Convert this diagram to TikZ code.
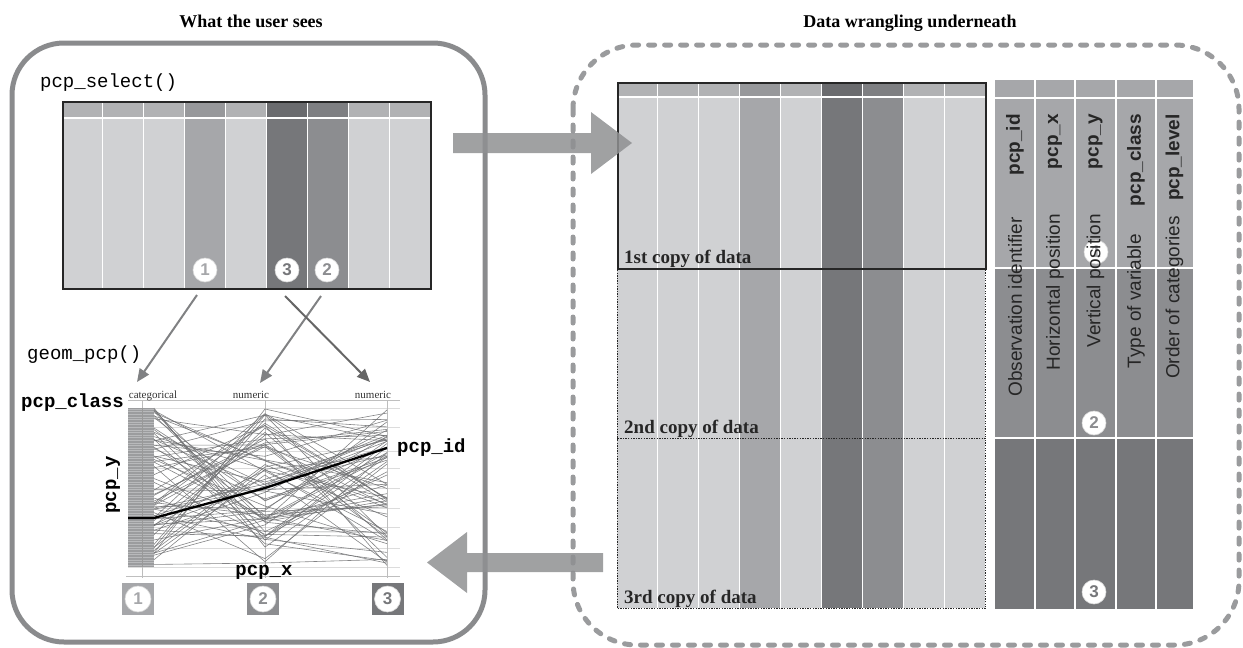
\documentclass[tikz,border=0pt]{standalone}
\usepackage{fontspec}
\setmainfont{Liberation Serif}
\setsansfont{Liberation Sans}
\setmonofont{Liberation Mono}
\usetikzlibrary{arrows.meta}
\definecolor{cL}{HTML}{D0D1D3}
\definecolor{hL}{HTML}{B1B2B4}
\definecolor{c1}{HTML}{A6A7AA}
\definecolor{h1}{HTML}{97989B}
\definecolor{c2}{HTML}{8C8D90}
\definecolor{h2}{HTML}{7E7F82}
\definecolor{c3}{HTML}{76777A}
\definecolor{h3}{HTML}{6A6B6E}
\definecolor{pnl}{HTML}{8A8B8D}
\definecolor{dsh}{HTML}{9A9B9D}
\definecolor{arr}{HTML}{808183}
\definecolor{big}{HTML}{8F9092}
\definecolor{blk}{HTML}{9B9C9E}
\definecolor{blkln}{HTML}{B8B9BB}
\definecolor{pln}{HTML}{6E6F71}
\definecolor{grd}{HTML}{DCDCDC}
\definecolor{axl}{HTML}{BDBDBD}
\tikzset{
  panelbox/.style={draw=pnl, line width=5pt, rounded corners=52pt},
  dashpanel/.style={draw=dsh, line width=5pt, rounded corners=64pt, dash pattern=on 6pt off 10pt, line cap=round},
  selarrow/.style={draw=arr, line width=2pt, -{Triangle[length=13pt,width=11pt]}},
  numcirc/.style={circle, fill=white, draw=white!70!gray, line width=0.6pt, inner sep=0pt, minimum size=24pt, font=\sffamily\bfseries\fontsize{17}{17}\selectfont},
  numbox/.style={rectangle, inner sep=0pt, minimum size=32pt},
  monotext/.style={font=\ttfamily\fontsize{19}{19}\selectfont, inner sep=0pt},
  monobold/.style={font=\ttfamily\bfseries\fontsize{19}{19}\selectfont, inner sep=0pt},
  titletext/.style={font=\bfseries\fontsize{18}{18}\selectfont, inner sep=0pt},
  copylab/.style={font=\bfseries\fontsize{19}{19}\selectfont, inner sep=0pt, text=black!85},
  smalllab/.style={font=\fontsize{11}{11}\selectfont, inner sep=0pt, text=black!80},
  copyframe/.style={draw=black!85, line width=1.5pt, inner sep=0pt, anchor=north west},
  copydots/.style={draw=black!85, line width=1.3pt, dash pattern=on 1.3pt off 1.3pt, inner sep=0pt, anchor=north west},
  vartext/.style={font=\sffamily\fontsize{19}{19}\selectfont, rotate=90, anchor=east, inner sep=0pt, text=black!85},
  varname/.style={font=\sffamily\bfseries\fontsize{19}{19}\selectfont, rotate=90, anchor=east, inner sep=0pt, text=black!85},
  plotline/.style={draw=pln, line width=0.6pt, opacity=0.85},
  gridln/.style={draw=grd, line width=0.7pt},
  bigarrow/.style={fill=big, opacity=0.85},
  sepline/.style={draw=white, line width=1.2pt}
}
\begin{document}
\begin{tikzpicture}[x=1pt,y=-1pt]
\useasboundingbox (0,0) rectangle (1243,648);

% ---------- titles ----------
\node[titletext, anchor=base] (t1) at (251,27) {What the user sees};
\node[titletext, anchor=base] (t2) at (910,27) {Data wrangling underneath};

% ---------- panels ----------
\draw[panelbox] (12,43) rectangle (485,642);
\draw[dashpanel] (573,45) rectangle (1239,645);

% ---------- pcp_select table ----------
\node[monotext, anchor=base west] (sel) at (40,87) {pcp\_select()};
\foreach \c [count=\i from 0] in {L,L,L,1,L,3,2,L,L} {
  \fill[c\c] (62+\i*40.89,101) rectangle ++(40.89,187);
  \fill[h\c] (62+\i*40.89,101) rectangle ++(40.89,17);
}
\foreach \i in {1,...,8} \draw[sepline] (62+\i*40.89,101) -- ++(0,187);
\draw[sepline] (62,118) -- (430,118);
\node[copyframe, minimum width=368pt, minimum height=187pt] (seltab) at (62,101) {};
\node[numcirc, text=c1] (s1) at (205,270) {1};
\node[numcirc, text=c3] (s3) at (287,270) {3};
\node[numcirc, text=c2] (s2) at (327,270) {2};

% ---------- selection arrows ----------
\coordinate (a1s) at (197,295); \coordinate (a1e) at (137,382);
\coordinate (a2s) at (321,296); \coordinate (a2e) at (260,383);
\coordinate (a3s) at (285,296); \coordinate (a3e) at (370,382);
\draw[selarrow] (a1s) -- (a1e);
\draw[selarrow] (a2s) -- (a2e);
\draw[selarrow, draw=black!60] (a3s) -- (a3e);

\node[monotext, anchor=base west] (geom) at (27,359) {geom\_pcp()};

% ---------- parallel coordinate plot ----------
\foreach \y in {408,427,451,468,488,508,527,548,567} \draw[gridln] (128,\y) -- (400,\y);
\draw[draw=black!25, line width=0.7pt] (128,400) -- (400,400);
\draw[draw=black!25, line width=0.7pt] (126,576) -- (400,576);
\foreach \x in {142,265,387} \draw[draw=axl, line width=0.8pt] (\x,400) -- (\x,578);
\fill[blk] (128,408) rectangle (154,567);
\foreach \y in {409,411.6,...,567} \draw[draw=blkln, line width=0.45pt] (128,\y) -- (154,\y);
\draw[draw=black!40, line width=0.6pt] (142,408) -- (142,567);
\pgfmathsetseed{11}
\foreach \k in {1,...,75} {
  \pgfmathsetmacro\ya{408+159*rnd}
  \pgfmathsetmacro\yb{408+159*rnd}
  \pgfmathsetmacro\yc{408+159*rnd}
  \draw[plotline] (154,\ya) -- (265,\yb) -- (387,\yc);
}
\draw[black, line width=2.3pt, line join=round] (128,518) -- (154,518) -- (265,488) -- (387,448);

\node[smalllab, anchor=base] (cat) at (153,398) {categorical};
\node[smalllab, anchor=base] (num1) at (251,398) {numeric};
\node[smalllab, anchor=base] (num2) at (373,398) {numeric};

\node[monobold, anchor=base west] (pclass) at (21,407) {pcp\_class};
\node[monobold, anchor=base west] (pid) at (397,452) {pcp\_id};
\node[monobold] (px) at (264,572) {pcp\_x};
\node[monobold, rotate=90] (py) at (113,485) {pcp\_y};

\node[numbox, fill=c1] (b1) at (138,599) {};
\node[numbox, fill=c2] (b2) at (263,599) {};
\node[numbox, fill=c3] (b3) at (387.5,599) {};
\node[numcirc, text=c1, minimum size=26pt] (n1) at (b1) {1};
\node[numcirc, text=c2, minimum size=26pt] (n2) at (b2) {2};
\node[numcirc, text=c3, minimum size=26pt] (n3) at (b3) {3};

% ---------- data copies table ----------
\foreach \c [count=\i from 0] in {L,L,L,1,L,3,2,L,L} {
  \fill[c\c] (617+\i*40.89,82) rectangle ++(40.89,526);
  \fill[h\c] (617+\i*40.89,82) rectangle ++(40.89,15);
}
\foreach \i in {1,...,8} \draw[sepline] (617+\i*40.89,82) -- ++(0,526);
\draw[sepline] (617,97) -- (985,97);
\node[copydots, minimum width=368pt, minimum height=170pt] (copy2) at (617,268) {};
\node[copydots, minimum width=368pt, minimum height=170pt] (copy3) at (617,438) {};
\node[copyframe, minimum width=368pt, minimum height=186pt] (copy1) at (617,82) {};
\node[copylab, anchor=base west] (l1) at (624,263) {1st copy of data};
\node[copylab, anchor=base west] (l2) at (624,433) {2nd copy of data};
\node[copylab, anchor=base west] (l3) at (624,603) {3rd copy of data};

% ---------- variables table ----------
\fill[c1] (995,80) rectangle (1193,268);
\fill[c2] (995,268) rectangle (1193,438);
\fill[c3] (995,438) rectangle (1193,609);
\foreach \x in {1035,1075,1116,1156} \draw[sepline] (\x,80) -- (\x,609);
\foreach \y in {98,268,438} \draw[sepline] (995,\y) -- (1193,\y);
\node[numcirc, text=c1] (v1) at (1096,252) {1};
\node[numcirc, text=c2] (v2) at (1094,423) {2};
\node[numcirc, text=c3] (v3) at (1094,592) {3};

\node[varname] (id) at (1015,114) {pcp\_id};
\node[varname] (x) at (1055,114) {pcp\_x};
\node[varname] (y) at (1095.5,114) {pcp\_y};
\node[varname] (cls) at (1136,114) {pcp\_class};
\node[varname] (lvl) at (1174.5,114) {pcp\_level};
\node[vartext] (idd) at (1015,217) {Observation identifier};
\node[vartext] (xd) at (1055,214) {Horizontal position};
\node[vartext] (yd) at (1095.5,214) {Vertical position};
\node[vartext] (clsd) at (1136,234) {Type of variable};
\node[vartext] (lvld) at (1174.5,216) {Order of categories};

% ---------- big arrows ----------
\fill[bigarrow] (453,133) -- (591,133) -- (591,112) -- (632,143) -- (591,174) -- (591,153) -- (453,153) -- cycle;
\fill[bigarrow] (603,553) -- (467,553) -- (467,532) -- (427,562.5) -- (467,593) -- (467,572) -- (603,572) -- cycle;
\end{tikzpicture}
\end{document}
